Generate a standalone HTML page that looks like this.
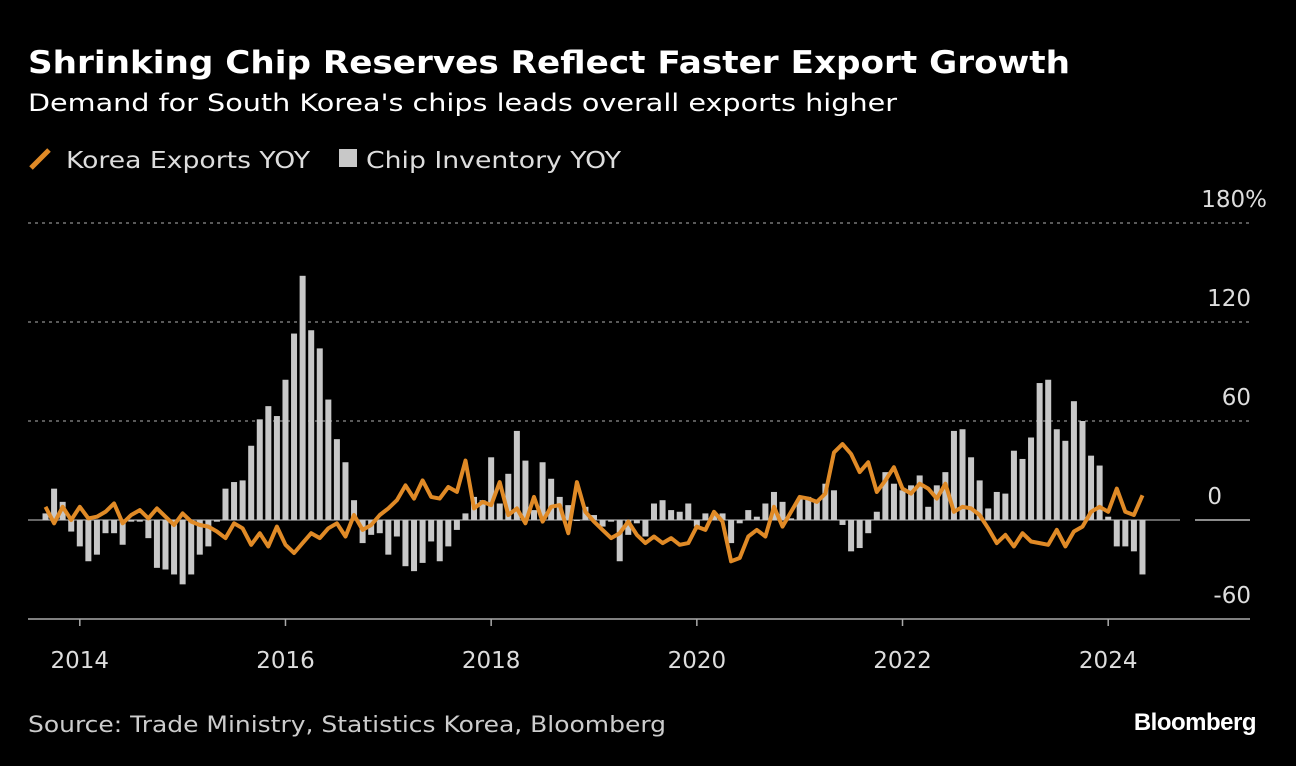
<!DOCTYPE html>
<html><head><meta charset="utf-8"><style>
body{margin:0;background:#000;width:1296px;height:766px;overflow:hidden;font-family:"DejaVu Sans","Liberation Sans",sans-serif;color:#fff}
svg{position:absolute;left:0;top:0;font-family:"DejaVu Sans","Liberation Sans",sans-serif}
</style></head><body>
<svg width="1296" height="766">
<text x="28" y="73" font-size="31" font-weight="bold" fill="#fff" textLength="1042" lengthAdjust="spacingAndGlyphs">Shrinking Chip Reserves Reflect Faster Export Growth</text>
<text x="28" y="111" font-size="24" fill="#fff" textLength="869" lengthAdjust="spacingAndGlyphs">Demand for South Korea's chips leads overall exports higher</text>
<g>
<line x1="31" y1="168" x2="49" y2="150" stroke="#e08a26" stroke-width="5"/>
<text x="66" y="168" font-size="23" fill="#ddd" textLength="244" lengthAdjust="spacingAndGlyphs">Korea Exports YOY</text>
<rect x="339" y="149" width="18" height="18" fill="#c8c8c8"/>
<text x="366" y="168" font-size="23" fill="#ddd" textLength="255" lengthAdjust="spacingAndGlyphs">Chip Inventory YOY</text>
</g>
<g id="grid"></g><g id="bars"></g><g id="line"></g><g id="axes"></g>
<text x="28" y="732" font-size="22" fill="#ccc" textLength="638" lengthAdjust="spacingAndGlyphs">Source: Trade Ministry, Statistics Korea, Bloomberg</text>
<text x="1256" y="730" font-size="24" font-weight="bold" fill="#fff" text-anchor="end" font-family="Liberation Sans, sans-serif" letter-spacing="-0.5">Bloomberg</text>
</svg>
<script>
const inventory=[4,19,11,-7,-16,-25,-21,-8,-8,-15,-1,-1,-11,-29,-30,-33,-39,-33,-21,-16,-1,19,23,24,45,61,69,63,85,113,148,115,104,73,49,35,12,-14,-9,-8,-21,-10,-28,-31,-26,
-13,-25,-16,-6,4,14,12,38,10,28,54,36,6,35,25,14,9,0,8,3,-4,-1,-25,-9,-2,-10,10,12,6,5,10,-4,4,3,4,-14,-2,6,2,10,17,11,1,13,14,12,
22,18,-3,-19,-17,-8,5,29,22,18,21,27,8,21,29,54,55,38,24,7,17,16,42,37,50,83,85,55,48,72,60,39,33,2,-16,-16,-19,-33];
const exportsYoy=[8,-2,8,0,8,1,2,5,10,-2,3,6,1,7,2,-3,4,-1,-3,-4,-7,-11,-2,-5,-15,-8,-16,-4,-15,-20,-14,-8,-11,-5,-2,-10,3,-6,-3,3,7,12,21,13,24,
14,13,20,17,36,7,11,9,23,3,7,-2,14,-1,8,9,-8,23,5,-1,-6,-11,-8,-1,-9,-14,-10,-14,-11,-15,-14,-4,-6,5,-1,-25,-23,-10,-6,-10,8,-4,5,14,13,11,
16,41,46,40,29,35,17,24,32,19,16,22,19,13,22,5,8,7,3,-5,-14,-9,-16,-8,-13,-14,-15,-6,-16,-7,-4,5,8,5,19,5,3,15];
const yTicks=[180,120,60,0,-60];
const yTickLabels=["180%","120","60","0","-60"];
const xYears=[2014,2016,2018,2020,2022,2024];
const startMonth=-4; // Sep 2013 relative to Jan 2014
const NS="http://www.w3.org/2000/svg";
function x(m){return 79.8+m*8.57;}
function y(v){return 520-v*1.65;}
function mk(t,a,p){const e=document.createElementNS(NS,t);for(const k in a)e.setAttribute(k,a[k]);p.appendChild(e);return e;}
const grid=document.getElementById('grid'),bars=document.getElementById('bars'),line=document.getElementById('line'),axes=document.getElementById('axes');
yTicks.forEach((v,i)=>{
 if(v===0){
  const a=mk('line',{x1:28,x2:1180,y1:y(v),y2:y(v),stroke:'#888','stroke-width':1.5},grid);
  
  
  const b=mk('line',{x1:1195,x2:1250,y1:y(v),y2:y(v),stroke:'#bbb','stroke-width':1.5},grid);
  
  
 } else {
  const l=mk('line',{x1:28,x2:1250,y1:y(v),y2:y(v),stroke:v===-60?'#aaa':'#777','stroke-width':1.5,'stroke-dasharray':v===-60?'none':'3,4'},grid);
  
  
 }
 const ax=v===180?1267:(v===0?1222:1251);
 const t=mk('text',{x:ax,y:y(v)-16,'font-size':23,fill:'#ddd','text-anchor':'end'},axes);
 t.textContent=yTickLabels[i];
 
 
});
inventory.forEach((v,i)=>{
 const cx=x(startMonth+i),y0=y(0),y1=y(v);
 const r=mk('rect',{x:cx-3,y:Math.min(y0,y1),width:6,height:Math.max(1,Math.abs(y1-y0)),fill:'#c8c8c8'},bars);
 
 
});
const pts=exportsYoy.map((v,i)=>x(startMonth+i).toFixed(1)+','+y(v).toFixed(1)).join(' ');
const pl=mk('polyline',{points:pts,fill:'none',stroke:'#e08a26','stroke-width':4,'stroke-linejoin':'round'},line);


xYears.forEach(yr=>{
 const m=(yr-2014)*12,xx=x(m);
 const tk=mk('line',{x1:xx,x2:xx,y1:619,y2:626,stroke:'#aaa','stroke-width':1.5},axes);
 
 
 const t=mk('text',{x:xx,y:668,'font-size':23,fill:'#ddd','text-anchor':'middle'},axes);
 t.textContent=yr;
 
 
});
</script>
</body></html>
